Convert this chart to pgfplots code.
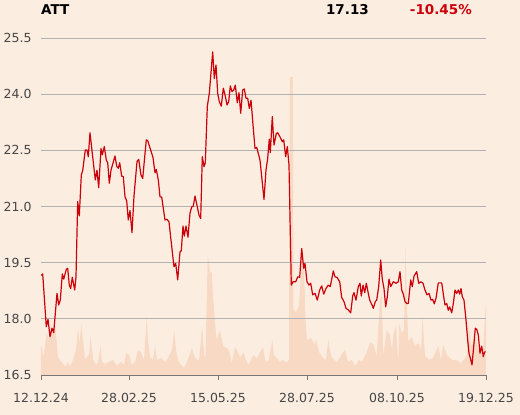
\documentclass[border=0pt]{standalone}
\usepackage{fontspec}
\setmainfont{DejaVu Sans}
\usepackage{pgfplots}
\pgfplotsset{compat=1.18}
\definecolor{bg}{RGB}{252,237,225}
\definecolor{vol}{RGB}{248,217,196}
\definecolor{pricered}{RGB}{204,0,10}
\definecolor{gridgray}{RGB}{178,178,178}
\definecolor{axisgray}{RGB}{120,120,120}
\definecolor{labgray}{RGB}{70,70,70}
\begin{document}
\begin{tikzpicture}
\fill[bg] (-41pt,-40pt) rectangle (479pt,375pt);
\path[use as bounding box] (-41pt,-40pt) rectangle (479pt,375pt);
% volume
\begin{axis}[at={(0pt,0pt)}, anchor=south west, scale only axis,
  width=445pt, height=337pt, xmin=0, xmax=445, ymin=0, ymax=337, hide axis]
\addplot[fill=vol, draw=none] coordinates {
(0,29) (0.7,28) (2.5,18) (5.7,42) (8,35) (10,50) (12,40) (14,52) (16,30) (17,18) (19,15)
(22,11) (25,8) (27,13) (29,8) (32,15) (35,25) (37,48) (38.5,30) (40.3,51) (42,35) (44,15)
(46,18) (48,20) (49.7,39) (51,25) (52.3,15) (55,10) (57,13) (59.7,28) (61,13) (64,11)
(68,13) (72,15) (76,9) (80,13) (83,10) (85,22) (88,20) (91,10) (94,13) (97,25) (100,23)
(103,15) (105.7,59) (107,35) (109,18) (112,15) (114,29) (116,15) (120,17) (124,13) (127,17)
(131,25) (133.3,44) (135,25) (137,15) (140,10) (143,7) (146,13) (150.7,27) (153,20)
(155.7,15) (158,15) (161.3,49) (163,20) (164.5,18) (166.7,119) (168,113) (169,102)
(170.7,103) (172,80) (174,52) (175.7,35) (179,45) (182.3,29) (185.7,27) (188,25)
(190.7,12) (194,28) (197,23) (199,17) (202.3,23) (205,15) (207.3,10) (209,13) (212.3,20)
(216,17) (220,25) (222.3,27) (224,15) (227.3,13) (231.3,35) (233,20) (235.7,17) (239,13)
(242,15) (245,12) (248,15) (248.8,298) (251.8,298) (252.5,65) (255,63) (258,70) (261,119)
(263,105) (264.5,55) (266,35) (270,37) (274,30) (275,36) (278,23) (282,17) (285,15)
(287.3,35) (290,19) (293,15) (296,13) (299,18) (302,23) (304,25) (307,13) (310.7,15)
(314,9) (318,15) (321,13) (325.7,23) (329,32) (332.3,31) (335.7,19) (339,75) (340.7,80)
(342.3,19) (345.7,45) (349,40) (351,25) (352.3,40) (355,50) (357.3,12) (358.3,52)
(360.7,42) (363,45) (364.5,127) (365.7,75) (367.3,33) (370.7,38) (374,29) (377.3,32)
(380,25) (381.5,58) (384,19) (388,15) (392,17) (397.3,29) (400,15) (402.3,30) (406,20)
(410.7,15) (415,15) (420,12) (425.7,19) (427.3,53) (429,35) (430.7,28) (434,40)
(437.3,25) (440.7,28) (442,23) (444.7,70) (445,70)
} \closedcycle;
\end{axis}
% price
\begin{axis}[at={(0pt,0pt)}, anchor=south west, scale only axis,
  width=445pt, height=337pt,
  xmin=0, xmax=445, ymin=16.5, ymax=25.5,
  axis x line*=bottom, axis y line*=left,
  x axis line style={draw=axisgray, line width=0.8pt, -},
  y axis line style={draw=none},
  xtick={0,88,177,266,356,445},
  xticklabels={12.12.24,28.02.25,15.05.25,28.07.25,08.10.25,19.12.25},
  ytick={16.5,18,19.5,21,22.5,24,25.5},
  yticklabels={16.5,18.0,19.5,21.0,22.5,24.0,25.5},
  tick align=outside, major tick length=5pt,
  xtick style={draw=axisgray, line width=0.8pt},
  ytick style={draw=none},
  ymajorgrids, grid style={gridgray, line width=0.8pt},
  ticklabel style={font=\fontsize{12.5}{15}\selectfont, text=labgray},
  xticklabel style={yshift=-10pt},
  yticklabel style={xshift=-1pt},
  /pgf/number format/assume math mode=true,
  clip=false]
\addplot[pricered, line width=1.2pt, line join=round] coordinates {
(0.3,19.16) (1.7,19.20) (5.3,17.79) (7,17.99) (9,17.52) (11,17.75) (12.7,17.63) (16,18.68)
(17.7,18.37) (19.3,18.50) (21.3,19.20) (22.7,19.06) (25.3,19.32) (26.7,19.35) (28.3,18.90)
(29.7,18.81) (31.3,19.11) (33.7,18.77) (35,19.12) (36.7,21.13) (38.3,20.75) (40.3,21.84)
(41.7,21.96) (44.3,22.51) (46,22.51) (47.3,22.33) (49,22.97) (51.3,22.42) (54.3,21.71)
(56,21.97) (57.7,21.50) (60,22.55) (61.3,22.38) (63.3,22.60) (65.3,22.24) (66.7,22.17)
(68.3,21.62) (70,21.97) (74,22.35) (75.7,22.08) (77.3,22.02) (78.7,22.17) (80.7,21.81)
(82.3,21.80) (84,21.26) (85.7,21.15) (87.3,20.64) (89,20.89) (91,20.30) (93,21.28)
(96,22.20) (97.7,22.26) (100,21.84) (101.7,21.75) (105.3,22.78) (106.7,22.76) (110.7,22.42)
(112,22.31) (114,21.90) (115.3,21.99) (117.3,21.71) (119,21.26) (120.7,21.25) (124,20.64)
(126,20.66) (128,20.59) (131.3,19.79) (133,19.39) (134.7,19.48) (136.7,19.04) (139,19.79)
(140.3,19.82) (142,20.48) (143.3,20.21) (145,20.48) (147,20.18) (149,20.82) (150.7,20.99)
(152.3,21.01) (154,21.28) (156.3,20.99) (158,20.77) (159.7,20.68) (161.3,22.33) (163,22.06)
(164.3,22.17) (166.3,23.67) (168.3,24.02) (171.7,25.13) (173.3,24.42) (175,24.78)
(176.7,24.02) (178.3,23.80) (180.3,23.68) (182.3,24.16) (184.3,23.95) (186,23.71)
(187.7,23.80) (189.3,24.22) (191,24.07) (192.7,24.11) (194.3,24.24) (196.3,23.77)
(198,24.04) (199.7,23.49) (201.7,24.11) (203.3,24.14) (205,23.89) (206.7,23.89)
(208.3,23.62) (210,23.84) (212.3,23.09) (214,22.55) (215.7,22.58) (219,22.24) (223,21.19)
(225,21.97) (226.7,22.29) (228.3,22.80) (229.3,22.44) (231.3,23.40) (233,22.64)
(235.3,22.95) (236.7,22.97) (239,22.86) (241.3,22.73) (242.7,22.78) (244.7,22.33)
(246.3,22.60) (248,22.11) (250.3,18.90) (252,18.99) (254.7,18.99) (256.7,19.12)
(258.7,19.11) (260.7,19.88) (262.7,19.35) (264,19.48) (266,18.99) (268,18.90) (269.7,18.95)
(271.7,18.64) (274,18.68) (276.3,18.50) (278.7,18.77) (280.7,18.88) (282.7,18.66)
(285,18.81) (287.3,18.90) (289.3,18.86) (292.3,19.28) (294,19.12) (296,19.11) (298.7,18.99)
(300.7,18.57) (303,18.46) (305,18.28) (307.3,18.24) (309.7,18.16) (311.7,18.61) (313,18.70)
(315,18.50) (317.3,18.86) (319,18.95) (320.3,18.61) (322,18.90) (323.7,18.70) (325.3,18.95)
(327,18.72) (328.7,18.50) (331,18.37) (332.3,18.28) (334.3,18.46) (335.7,18.50)
(337.7,18.86) (339.7,19.57) (341.3,19.06) (343,18.81) (344.7,18.32) (346.3,18.59)
(348,19.06) (349.7,18.86) (352.3,18.99) (355,18.95) (357.3,18.99) (359,19.26) (360.7,18.77)
(362.3,18.66) (364,18.46) (365.7,18.41) (367.3,18.41) (369.7,19.04) (371.3,18.86)
(373,19.14) (375.7,19.26) (377.7,18.95) (380,18.99) (382,18.95) (384,18.77) (386,18.64)
(388,18.68) (390,18.50) (391.7,18.52) (393.3,18.40) (395,18.55) (397.3,18.96) (400.7,18.96)
(402.7,18.59) (404,18.37) (405.7,18.41) (407.3,18.23) (408.7,18.32) (410.7,18.16)
(412.3,18.41) (414,18.77) (415.7,18.68) (417.3,18.77) (418.7,18.66) (420,18.81)
(421.3,18.59) (423,18.50) (425,17.97) (426.7,17.43) (428,17.08) (429.3,16.95) (431,16.77)
(432.7,17.26) (434.3,17.75) (435.7,17.72) (437.3,17.57) (439,17.08) (440.7,17.27)
(442.3,16.99) (443.3,17.09) (444.3,17.13)
};
\end{axis}
\node[anchor=base west, inner sep=0pt, font=\fontsize{13.5}{16}\selectfont\bfseries] at (0pt,360pt) {ATT};
\node[anchor=base east, inner sep=0pt, font=\fontsize{13.5}{16}\selectfont\bfseries] at (328pt,360pt) {17.13};
\node[anchor=base east, inner sep=0pt, font=\fontsize{13.5}{16}\selectfont\bfseries, text=pricered] at (431pt,360pt) {-10.45\%};
\end{tikzpicture}
\end{document}
